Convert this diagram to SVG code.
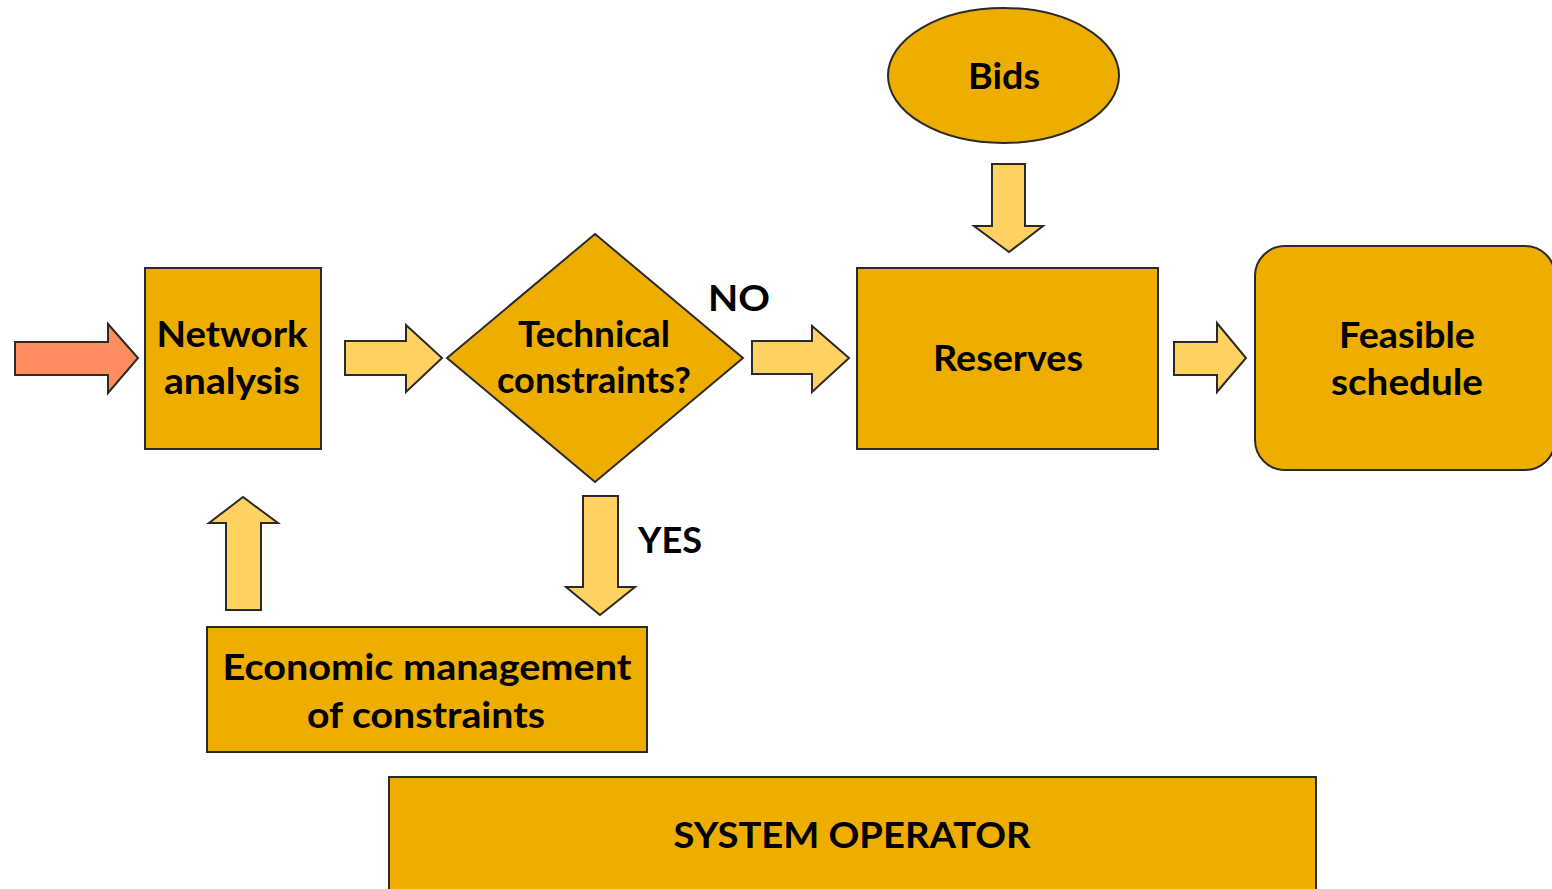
<svg xmlns="http://www.w3.org/2000/svg" width="1552" height="889" viewBox="0 0 1552 889">
<style>
.node{fill:#EEAE00;stroke:#2a2a2a;stroke-width:2}
.arr{fill:#FFD160;stroke:#2a2a2a;stroke-width:2;stroke-linejoin:miter}
.red{fill:#FF8C5C;stroke:#2a2a2a;stroke-width:2}
.t{font-family:Lato,"Liberation Sans",sans-serif;font-weight:bold;font-size:36px;fill:#000;text-anchor:middle}
</style>
<rect width="1552" height="889" fill="#fff"/>
<g id="connectors">
<polygon class="red" points="15,342 108,342 108,324 138,358 108,393 108,375 15,375"/>
<polygon class="arr" points="345,341 406,341 406,325 442,358 406,392 406,375 345,375"/>
<polygon class="arr" points="752,341 812,341 812,326 849,358 812,392 812,374 752,374"/>
<polygon class="arr" points="1174,342 1217,342 1217,323 1246,358 1217,392 1217,375 1174,375"/>
<polygon class="arr" points="992,164 1025,164 1025,226 1043,226 1009,252 974,226 992,226"/>
<polygon class="arr" points="226,610 261,610 261,523 278,523 243,497 209,523 226,523"/>
<polygon class="arr" points="583,496 618,496 618,587 635,587 600,615 566,587 583,587"/>
<text class="t" x="739" y="311" textLength="62" lengthAdjust="spacingAndGlyphs">NO</text>
<text class="t" x="670" y="553" textLength="64" lengthAdjust="spacingAndGlyphs">YES</text>
</g>
<g id="network">
<rect class="node" x="145" y="268" width="176" height="181"/>
<text class="t" x="232" y="347" textLength="151" lengthAdjust="spacingAndGlyphs">Network</text>
<text class="t" x="232" y="394" textLength="136" lengthAdjust="spacingAndGlyphs">analysis</text>
</g>
<g id="technical">
<polygon class="node" points="595,234 743,358 595,482 447,358"/>
<text class="t" x="594" y="347" textLength="152" lengthAdjust="spacingAndGlyphs">Technical</text>
<text class="t" x="594" y="393" textLength="194" lengthAdjust="spacingAndGlyphs">constraints?</text>
</g>
<g id="bids">
<ellipse class="node" cx="1003.5" cy="75.5" rx="115.5" ry="67.5"/>
<text class="t" x="1004" y="89" textLength="72" lengthAdjust="spacingAndGlyphs">Bids</text>
</g>
<g id="reserves">
<rect class="node" x="857" y="268" width="301" height="181"/>
<text class="t" x="1008" y="371" textLength="150" lengthAdjust="spacingAndGlyphs">Reserves</text>
</g>
<g id="feasible">
<rect class="node" x="1255" y="246" width="300" height="224" rx="30" ry="30"/>
<text class="t" x="1407" y="348" textLength="136" lengthAdjust="spacingAndGlyphs">Feasible</text>
<text class="t" x="1407" y="395" textLength="152" lengthAdjust="spacingAndGlyphs">schedule</text>
</g>
<g id="economic">
<rect class="node" x="207" y="627" width="440" height="125"/>
<text class="t" x="427" y="680" textLength="409" lengthAdjust="spacingAndGlyphs">Economic management</text>
<text class="t" x="426" y="728" textLength="238" lengthAdjust="spacingAndGlyphs">of constraints</text>
</g>
<g id="system">
<rect class="node" x="389" y="777" width="927" height="120"/>
<text class="t" x="852" y="848" textLength="357" lengthAdjust="spacingAndGlyphs">SYSTEM OPERATOR</text>
</g>
</svg>
